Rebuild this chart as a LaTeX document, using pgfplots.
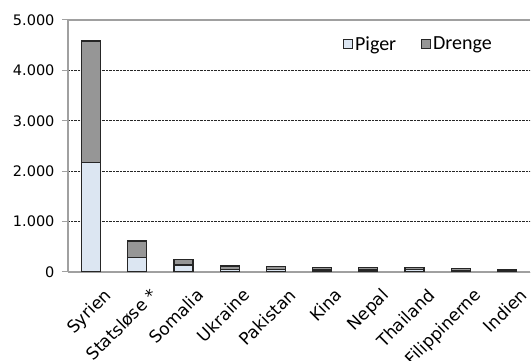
\documentclass[border=0pt]{standalone}
\usepackage{pgfplots}
\pgfplotsset{compat=1.18}
\usepackage{fontspec}
\setmainfont{DejaVu Sans}
\newfontfamily\legfont{Carlito}
\definecolor{piger}{HTML}{DCE6F2}
\definecolor{drenge}{HTML}{969696}
\definecolor{axgray}{HTML}{A0A0A0}
\begin{document}
\begin{tikzpicture}
\begin{axis}[
  scale only axis,
  width=462pt, height=252pt,
  ybar stacked, bar width=19pt,
  xmin=-0.5, xmax=9.5,
  ymin=0, ymax=5000,
  axis x line*=bottom, axis y line*=left,
  axis line style={axgray, line width=1.3pt, -},
  xtick={0,...,9},
  xticklabels={Syrien,Statsløse *,Somalia,Ukraine,Pakistan,Kina,Nepal,Thailand,Filippinerne,Indien},
  xtick style={draw=none},
  xticklabel style={rotate=45, anchor=north east, font=\fontsize{17}{19}\selectfont, inner sep=1pt, xshift=3pt, yshift=-14pt},
  extra x ticks={-0.5,0.5,...,9.5},
  extra x tick labels={},
  extra x tick style={major tick length=6pt, tick align=outside, tick style={axgray, line width=1pt}, grid=none},
  ytick={0,1000,2000,3000,4000},
  extra y ticks={5000},
  extra y tick style={grid style={solid, axgray, line width=1.3pt}},
  ymajorgrids,
  grid style={densely dotted, black!85, line width=0.8pt},
  tick align=outside,
  major tick length=6pt,
  ytick style={axgray, line width=1pt},
  yticklabel style={font=\fontsize{14.5}{16}\selectfont, xshift=-4pt},
  /pgf/number format/.cd, 1000 sep={.}, assume math mode=true,
  /pgfplots/.cd,
  legend columns=2,
  legend style={at={(0.595,0.905)}, anchor=west, draw=none, fill=none, inner sep=0pt,
    font=\legfont\fontsize{20}{22}\selectfont,
    /tikz/every even column/.append style={column sep=23pt}},
  legend image code/.code={\draw[#1, line width=1pt] (0pt,-4.5pt) rectangle (9pt,4.5pt);},
  legend cell align=left,
]
\addplot[fill=piger, draw=black!85, line width=1.2pt] coordinates {
(0,2170) (1,290) (2,140) (3,55) (4,50) (5,40) (6,40) (7,45) (8,35) (9,25)};
\addplot[fill=drenge, draw=black!85, line width=1.2pt] coordinates {
(0,2415) (1,325) (2,115) (3,65) (4,65) (5,47) (6,47) (7,42) (8,32) (9,30)};
\legend{Piger,Drenge}
\end{axis}
\pgfresetboundingbox
\path[use as bounding box] ([xshift=-68pt,yshift=-89pt]current axis.south west) rectangle ([xshift=2pt,yshift=20pt]current axis.north east);
\end{tikzpicture}
\end{document}
